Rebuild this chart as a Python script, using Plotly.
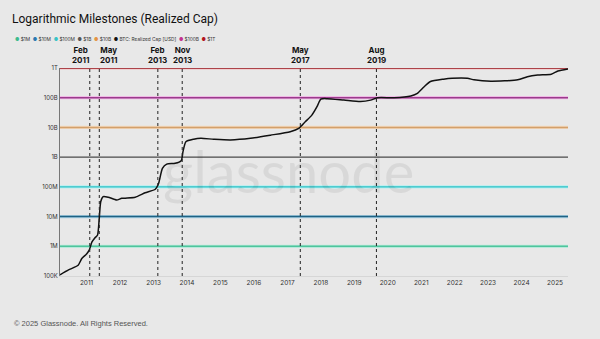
import plotly.graph_objects as go

# ---------------- data ----------------
btc_dates = [
    "2010-03-17", "2010-06-18", "2010-10-01", "2010-11-10", "2011-01-01", "2011-01-30",
    "2011-03-01", "2011-04-01", "2011-05-01", "2011-05-18", "2011-06-05", "2011-07-01",
    "2011-08-25", "2011-11-25", "2012-01-20", "2012-06-15", "2012-10-01", "2013-01-20",
    "2013-02-25", "2013-04-08", "2013-05-25", "2013-08-25", "2013-10-30", "2013-11-18",
    "2013-12-20", "2014-03-15", "2014-06-01", "2014-10-20", "2015-04-20", "2015-11-25",
    "2016-07-01", "2017-02-01", "2017-05-05", "2017-07-15", "2017-09-25", "2017-11-20",
    "2018-01-01", "2018-03-10", "2018-09-10", "2019-03-10", "2019-06-28", "2019-09-10",
    "2020-03-10", "2020-09-10", "2020-11-20", "2021-01-30", "2021-04-12", "2021-09-01",
    "2021-12-05", "2022-05-20", "2022-08-01", "2023-02-01", "2023-11-20", "2024-03-05",
    "2024-06-25", "2024-11-20", "2025-02-01", "2025-05-22",
]
btc_values = [
    1.1e5, 1.6e5, 2.3e5, 3.9e5, 5.5e5, 7.4e5,
    1.4e6, 1.9e6, 2.4e6, 7.6e6, 3.2e7, 4.7e7,
    4.5e7, 3.6e7, 4.1e7, 4.5e7, 6.3e7, 8.3e7,
    1.3e8, 4.2e8, 5.8e8, 6.2e8, 7.6e8, 1.5e9,
    3.3e9, 4.0e9, 4.3e9, 4.0e9, 3.8e9, 4.3e9,
    5.5e9, 7.2e9, 9.3e9, 1.55e10, 2.6e10, 5.0e10,
    9.0e10, 9.3e10, 8.3e10, 7.4e10, 8.3e10, 1.0e11,
    1.0e11, 1.15e11, 1.4e11, 2.3e11, 3.5e11, 4.2e11,
    4.5e11, 4.5e11, 4.0e11, 3.6e11, 4.0e11, 5.1e11,
    5.8e11, 6.2e11, 7.9e11, 9.3e11,
]

milestone_names = ["$1M", "$10M", "$100M", "$1B", "$10B", "$100B", "$1T"]
milestone_values = [1e6, 1e7, 1e8, 1e9, 1e10, 1e11, 1e12]
milestone_colors = ["#4fc49c", "#1f6283", "#2cc0c4", "#4a4a4a", "#d2a06c", "#9a3b8c", "#961c24"]
milestone_halo = ["#b6eadb", "#a9d0e3", "#b5f0f2", "#e8e8e8", "#f3d9bc", "#f0b8e6", "#f3b7b9"]

legend_names = ["$1M", "$10M", "$100M", "$1B", "$10B", "BTC: Realized Cap [USD]", "$100B", "$1T"]
legend_colors = ["#3dbb8d", "#2a78b0", "#38c3c6", "#555555", "#e39344", "#111111", "#c2338f", "#b3161e"]

event_dates = ["2011-02-05", "2011-05-20", "2013-02-17", "2013-11-10", "2017-05-22", "2019-08-31"]
event_labels = ["Feb<br>2011", "May<br>2011", "Feb<br>2013", "Nov<br>2013", "May<br>2017", "Aug<br>2019"]
event_shift = [-9, 9, 0, 0, 0, 0]

y_tickvals = [1e5, 1e6, 1e7, 1e8, 1e9, 1e10, 1e11, 1e12]
y_ticktext = ["100K", "1M", "10M", "100M", "1B", "10B", "100B", "1T"]

x_range = ["2010-03-17", "2025-05-22"]

# ---------------- figure ----------------
W, H = 600, 339
ML, MR, MT, MB = 60, 32, 68, 63
PW, PH = W - ML - MR, H - MT - MB

def px_x(p):
    return (p - ML) / PW

def px_y(p):
    return (H - MB - p) / PH

BG = "#e8e8e8"
fig = go.Figure()

for name, val, col, halo in zip(milestone_names, milestone_values, milestone_colors, milestone_halo):
    fig.add_trace(go.Scatter(x=x_range, y=[val, val], mode="lines",
                             line=dict(color=halo, width=3.2), showlegend=False, hoverinfo="skip"))
    fig.add_trace(go.Scatter(x=x_range, y=[val, val], mode="lines", name=name,
                             line=dict(color=col, width=1.4 if name != "$1B" else 1.1),
                             showlegend=False))

fig.add_trace(go.Scatter(x=btc_dates, y=btc_values, mode="lines", name="BTC: Realized Cap [USD]",
                         line=dict(color="#111111", width=1.5, shape="spline", smoothing=0.6),
                         showlegend=False))

for d in event_dates:
    fig.add_shape(type="line", x0=d, x1=d, y0=0, y1=1, xref="x", yref="paper",
                  line=dict(color="#222222", width=1, dash="dot"))

annotations = []
for d, lab, sh in zip(event_dates, event_labels, event_shift):
    annotations.append(dict(x=d, y=1, xref="x", yref="paper", text="<b>" + lab + "</b>",
                            showarrow=False, yanchor="bottom", yshift=1, xshift=sh,
                            font=dict(size=8, color="#111111", family="Inter")))

leg_parts = []
for n, c in zip(legend_names, legend_colors):
    leg_parts.append("<span style='color:%s'>●</span>\u00a0%s" % (c, n))
annotations.append(dict(x=px_x(13), y=px_y(39), xref="paper", yref="paper",
                        text="\u00a0\u00a0".join(leg_parts), showarrow=False,
                        xanchor="left", yanchor="middle",
                        font=dict(size=4.8, color="#333333", family="Inter")))

annotations.append(dict(x=px_x(12), y=px_y(323), xref="paper", yref="paper",
                        text="© 2025 Glassnode. All Rights Reserved.", showarrow=False,
                        xanchor="left", yanchor="middle",
                        font=dict(size=7.5, color="#555555", family="Liberation Sans")))

annotations.append(dict(x=px_x(288), y=px_y(170), xref="paper", yref="paper",
                        text="glassnode", showarrow=False, xanchor="center", yanchor="middle",
                        font=dict(size=58, color="rgba(0,0,0,0.065)", family="Lato")))

fig.update_layout(
    width=W, height=H,
    margin=dict(l=ML, r=MR, t=MT, b=MB),
    paper_bgcolor=BG, plot_bgcolor=BG,
    title=dict(text="Logarithmic Milestones (Realized Cap)", x=12 / W, xanchor="left",
               xref="container", y=1 - 19 / H, yref="container", yanchor="middle",
               font=dict(size=12, color="#111111", family="Roboto")),
    annotations=annotations,
    showlegend=False,
    xaxis=dict(type="date", range=x_range, showgrid=False, zeroline=False,
               tickformat="%Y", dtick="M12", tick0="2011-01-01", ticks="",
               tickfont=dict(size=6.5, color="#333333", family="Inter"),
               showline=True, linecolor="#d6d6d6", linewidth=1),
    yaxis=dict(type="log", range=[5, 12], showgrid=False, zeroline=False,
               tickvals=y_tickvals, ticktext=y_ticktext, ticks="",
               tickfont=dict(size=6, color="#333333", family="Inter"),
               showline=True, linecolor="#777777", linewidth=1),
)

fig.write_html("out.html")
